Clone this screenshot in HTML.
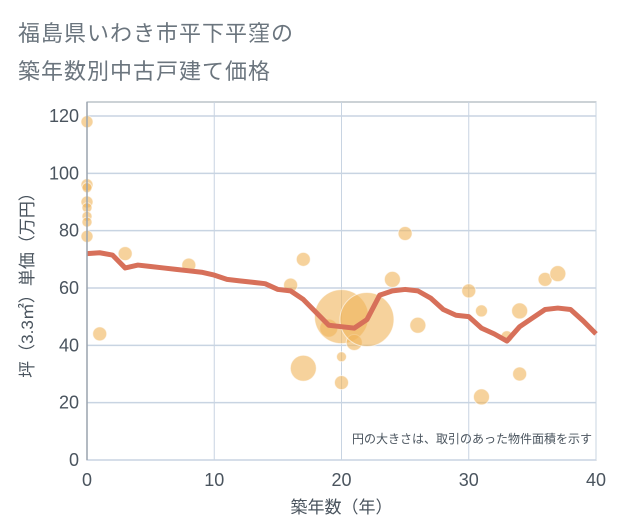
<!DOCTYPE html>
<html><head><meta charset="utf-8"><style>
body{margin:0;background:#fff;}
#wrap{position:relative;width:621px;height:530px;font-family:"Liberation Sans","Noto Sans CJK JP",sans-serif;}
.title{position:absolute;left:18px;font-size:22px;color:#6b757e;letter-spacing:1px;}
</style></head><body>
<div id="wrap">
<div class="title" style="top:16px">福島県いわき市平下平窪の</div>
<div class="title" style="top:54px">築年数別中古戸建て価格</div>
<svg id="svg" width="621" height="530" style="position:absolute;left:0;top:0"></svg>
</div>
<script>
const xTicks=[0,10,20,30,40];
const yTicks=[0,20,40,60,80,100,120];
const bubbleX=[0,0,0,0,0,0,0,0,1,3,8,16,17,17,19,20,20,20,21,22,24,25,26,30,31,31,33,34,34,36,37];
const bubbleY=[118,96,95,90,88,85,83,78,44,72,68,61,70,32,46,50,36,27,41,49,63,79,47,59,52,22,43,52,30,63,65];
const bubbleR=[6,6,5,6,5,5,5,6,7,7,7,7,7,13,9,27,5,7,8,27,8,7,8,7,6,8,6,8,7,7,8];
const lineX=[0,1,2,3,4,5,6,7,8,9,10,11,12,13,14,15,16,17,18,19,20,21,22,23,24,25,26,27,28,29,30,31,32,33,34,35,36,37,38,39,40];
const lineY=[72,72.3,71.5,67,68,67.5,67,66.5,66,65.5,64.5,63,62.5,62,61.5,59.5,59,56,51.5,47,46.5,46,49,57.5,59,59.5,59,56.5,52.5,50.5,50,46,44,41.5,46.5,49.5,52.5,53,52.5,48.5,44];
const L=87,R=596,T=102,B=460;
const sx=v=>L+(R-L)*v/40, sy=v=>B-(B-116)*v/120;
const svg=document.getElementById('svg');const NS='http://www.w3.org/2000/svg';
function mk(t,a,p){const e=document.createElementNS(NS,t);for(const k in a)e.setAttribute(k,a[k]);(p||svg).appendChild(e);return e;}
let e=mk('rect',{x:L,y:T,width:R-L,height:B-T,fill:'#fff',stroke:'#9aa4ae','stroke-width':1});

xTicks.forEach(v=>{let g=mk('line',{x1:sx(v),x2:sx(v),y1:T,y2:B,stroke:'#c8d4e2','stroke-width':1});

let t=mk('text',{x:sx(v),y:B+26,'text-anchor':'middle','font-size':18,fill:'#4a545e'});t.textContent=v;
});
yTicks.forEach(v=>{let g=mk('line',{x1:L,x2:R,y1:sy(v),y2:sy(v),stroke:'#c8d4e2','stroke-width':1.5});

let t=mk('text',{x:L-8,y:sy(v)+6,'text-anchor':'end','font-size':18,fill:'#4a545e'});t.textContent=v;
});
bubbleX.forEach((v,i)=>{let c=mk('circle',{cx:sx(v),cy:sy(bubbleY[i]),r:bubbleR[i],fill:'rgba(240,180,90,0.6)',stroke:'rgba(255,255,255,0.6)','stroke-width':1});
});
let p=mk('polyline',{points:lineX.map((v,i)=>sx(v)+','+sy(lineY[i])).join(' '),fill:'none',stroke:'#d7705a','stroke-width':5,'stroke-linejoin':'round'});

mk('line',{x1:L,x2:L,y1:T,y2:B,stroke:'#9aa4ae','stroke-width':1.5});
let n=mk('text',{x:R-4,y:443,'text-anchor':'end','font-size':12,fill:'#4a545e'});n.textContent='円の大きさは、取引のあった物件面積を示す';

let xt=mk('text',{x:(L+R)/2,y:513,'text-anchor':'middle','font-size':17,fill:'#4a545e'});xt.textContent='築年数（年）';

let yt=mk('text',{x:33,y:(T+B)/2,'text-anchor':'middle','font-size':17,fill:'#4a545e',transform:'rotate(-90 33 '+((T+B)/2)+')'});yt.textContent='坪（3.3㎡）単価（万円）';

</script>
</body></html>
